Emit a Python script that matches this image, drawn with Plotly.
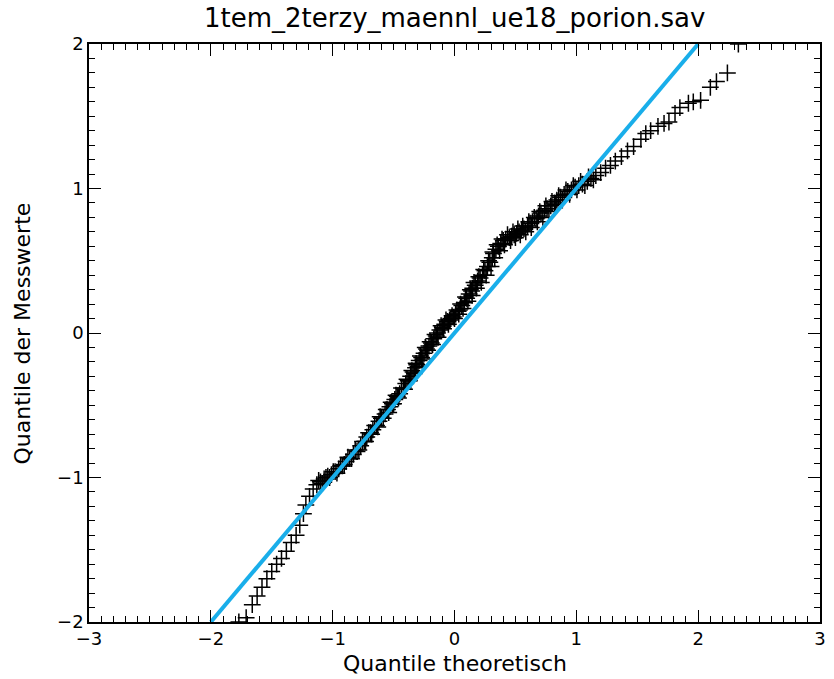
import plotly.graph_objects as go

# Theoretical quantiles (x) and sample quantiles (y)
theo = [-2.71, -2.32, -2.12, -1.97, -1.85, -1.77, -1.71, -1.66, -1.62, -1.58,
        -1.54, -1.50, -1.46, -1.42, -1.38, -1.34, -1.30, -1.27, -1.24, -1.22,
        -1.19, -1.16, -1.13, -1.10, -1.07, -1.04, -1.01, -0.98, -0.95, -0.92,
        -0.89, -0.86, -0.83, -0.80, -0.77, -0.74, -0.72, -0.69, -0.67, -0.64,
        -0.62, -0.60, -0.57, -0.55, -0.53, -0.51, -0.49, -0.47, -0.45, -0.42,
        -0.40, -0.38, -0.36, -0.34, -0.32, -0.31, -0.29, -0.27, -0.25, -0.23,
        -0.21, -0.19, -0.17, -0.15, -0.14, -0.12, -0.10, -0.08, -0.06, -0.04,
        -0.03, -0.01, 0.01, 0.03, 0.04, 0.06, 0.08, 0.10, 0.12, 0.14,
        0.15, 0.17, 0.19, 0.21, 0.23, 0.25, 0.27, 0.29, 0.31, 0.32,
        0.34, 0.36, 0.38, 0.40, 0.42, 0.45, 0.47, 0.49, 0.51, 0.53,
        0.55, 0.57, 0.60, 0.62, 0.64, 0.67, 0.69, 0.71, 0.74, 0.76,
        0.79, 0.82, 0.84, 0.87, 0.90, 0.93, 0.96, 0.99, 1.02, 1.05,
        1.09, 1.12, 1.16, 1.20, 1.24, 1.28, 1.32, 1.37, 1.42, 1.47,
        1.53, 1.57, 1.61, 1.67, 1.72, 1.76, 1.81, 1.85, 1.92, 1.96,
        2.02, 2.10, 2.15, 2.24, 2.33, 2.71]
sample = [-2.60, -2.35, -2.20, -2.12, -2.06, -2.00, -1.97, -1.88, -1.82, -1.76,
          -1.70, -1.65, -1.60, -1.56, -1.51, -1.45, -1.40, -1.33, -1.25, -1.19,
          -1.13, -1.08, -1.05, -1.03, -1.01, -0.99, -0.98, -0.96, -0.94, -0.92,
          -0.89, -0.87, -0.84, -0.82, -0.78, -0.75, -0.72, -0.69, -0.67, -0.64,
          -0.61, -0.59, -0.56, -0.53, -0.51, -0.49, -0.46, -0.44, -0.42, -0.38,
          -0.35, -0.33, -0.30, -0.27, -0.24, -0.22, -0.19, -0.17, -0.14, -0.11,
          -0.09, -0.07, -0.04, -0.02, 0.00, 0.02, 0.04, 0.06, 0.08, 0.09,
          0.10, 0.11, 0.13, 0.15, 0.16, 0.19, 0.21, 0.24, 0.27, 0.29,
          0.31, 0.33, 0.36, 0.38, 0.40, 0.43, 0.46, 0.49, 0.52, 0.55,
          0.58, 0.60, 0.62, 0.64, 0.65, 0.66, 0.67, 0.68, 0.69, 0.70,
          0.71, 0.72, 0.74, 0.76, 0.77, 0.79, 0.81, 0.83, 0.85, 0.86,
          0.88, 0.90, 0.92, 0.94, 0.96, 0.98, 0.99, 1.01, 1.02, 1.03,
          1.05, 1.07, 1.09, 1.11, 1.14, 1.16, 1.19, 1.22, 1.26, 1.29,
          1.34, 1.38, 1.40, 1.43, 1.45, 1.46, 1.52, 1.56, 1.59, 1.60,
          1.61, 1.70, 1.74, 1.80, 2.00, 2.40]

# Additional points in the dense central band
theo_band = [-1.115, -1.085, -1.055, -1.025, -0.995, -0.965, -0.935, -0.905, -0.875, -0.845,
             -0.815, -0.785, -0.755, -0.73, -0.705, -0.68, -0.655, -0.63, -0.61, -0.585,
             -0.56, -0.54, -0.52, -0.50, -0.48, -0.46, -0.435, -0.41, -0.39, -0.37,
             -0.35, -0.33, -0.315, -0.30, -0.28, -0.26, -0.24, -0.22, -0.20, -0.18,
             -0.16, -0.135, -0.11, -0.09, -0.07, -0.05, -0.02, 0.00, 0.02, 0.035,
             0.05, 0.07, 0.09, 0.11, 0.13, 0.145, 0.16, 0.18, 0.20, 0.22,
             0.24, 0.26, 0.28, 0.30, 0.315, 0.33, 0.35, 0.37, 0.39, 0.41,
             0.435, 0.46, 0.48, 0.50, 0.52, 0.54, 0.56, 0.585, 0.61, 0.63,
             0.655, 0.68, 0.70, 0.725, 0.75, 0.775, 0.80, 0.83, 0.855, 0.885,
             0.915, 0.945, 0.975, 1.005, 1.035, 1.07, 1.10, 1.14]
sample_band = [-1.02, -1.04, -1.00, -1.00, -0.96, -0.97, -0.92, -0.91, -0.86, -0.87,
               -0.81, -0.81, -0.75, -0.75, -0.69, -0.70, -0.64, -0.65, -0.58, -0.59,
               -0.53, -0.55, -0.48, -0.49, -0.43, -0.45, -0.38, -0.39, -0.32, -0.33,
               -0.26, -0.28, -0.21, -0.23, -0.16, -0.18, -0.10, -0.12, -0.06, -0.08,
               -0.01, -0.03, 0.05, 0.03, 0.09, 0.06, 0.12, 0.10, 0.16, 0.13,
               0.20, 0.17, 0.25, 0.22, 0.30, 0.26, 0.35, 0.31, 0.39, 0.35,
               0.44, 0.40, 0.50, 0.46, 0.56, 0.52, 0.61, 0.57, 0.65, 0.61,
               0.68, 0.64, 0.70, 0.66, 0.72, 0.68, 0.74, 0.70, 0.77, 0.73,
               0.80, 0.77, 0.84, 0.80, 0.88, 0.84, 0.91, 0.89, 0.95, 0.92,
               0.99, 0.96, 1.02, 0.99, 1.05, 1.02, 1.08, 1.06]

ref_x = [-2, 2]
ref_y = [-2, 2]

x_ticks = [-3, -2, -1, 0, 1, 2, 3]
y_ticks = [-2, -1, 0, 1, 2]

title_text = "1tem_2terzy_maennl_ue18_porion.sav"
x_title = "Quantile theoretisch"
y_title = "Quantile der Messwerte"

FONT = "DejaVu Sans ExtraLight, DejaVu Sans"


def fmt(v):
    return ("−" + str(-v)) if v < 0 else str(v)


fig = go.Figure()
fig.add_trace(go.Scatter(
    x=theo + theo_band, y=sample + sample_band, mode="markers",
    marker=dict(symbol="cross-thin", size=12, color="black",
                line=dict(color="black", width=1.5)),
    showlegend=False, hoverinfo="skip"))
fig.add_trace(go.Scatter(
    x=ref_x, y=ref_y, mode="lines",
    line=dict(color="#19aeea", width=4),
    showlegend=False, hoverinfo="skip"))

axis_common = dict(
    showgrid=False, zeroline=False, showline=True, linecolor="black",
    linewidth=1.5, mirror="ticks", ticks="inside", ticklen=12, tickwidth=1.3,
    tickcolor="black", tickfont=dict(family=FONT, size=18, color="black"),
)
minor_common = dict(dtick=0.1, tick0=0, ticks="inside", ticklen=6,
                    tickwidth=1.1, tickcolor="black", showgrid=False)

fig.update_xaxes(range=[-3, 3], tickvals=x_ticks, ticktext=[fmt(v) for v in x_ticks],
                 minor=minor_common, **axis_common)
fig.update_yaxes(range=[-2, 2], tickvals=y_ticks, ticktext=[fmt(v) for v in y_ticks],
                 minor=minor_common, **axis_common)

fig.update_layout(
    width=834, height=679,
    margin=dict(l=89, r=8, t=44, b=57),
    paper_bgcolor="white", plot_bgcolor="white",
    font=dict(family=FONT, color="black"),
    annotations=[
        dict(text=title_text, x=0.5, y=1.045, xref="paper", yref="paper",
             xanchor="center", yanchor="middle", showarrow=False,
             font=dict(family=FONT, size=26, color="black")),
        dict(text=x_title, x=0.5, y=-0.071, xref="paper", yref="paper",
             xanchor="center", yanchor="middle", showarrow=False,
             font=dict(family=FONT, size=22, color="black")),
        dict(text=y_title, x=-0.091, y=0.5, xref="paper", yref="paper",
             xanchor="center", yanchor="middle", showarrow=False, textangle=-90,
             font=dict(family=FONT, size=22, color="black")),
    ],
)

fig.write_html("out.html", config={"displayModeBar": False},
               post_script="document.body.style.margin='0px';document.body.style.overflow='hidden';")
